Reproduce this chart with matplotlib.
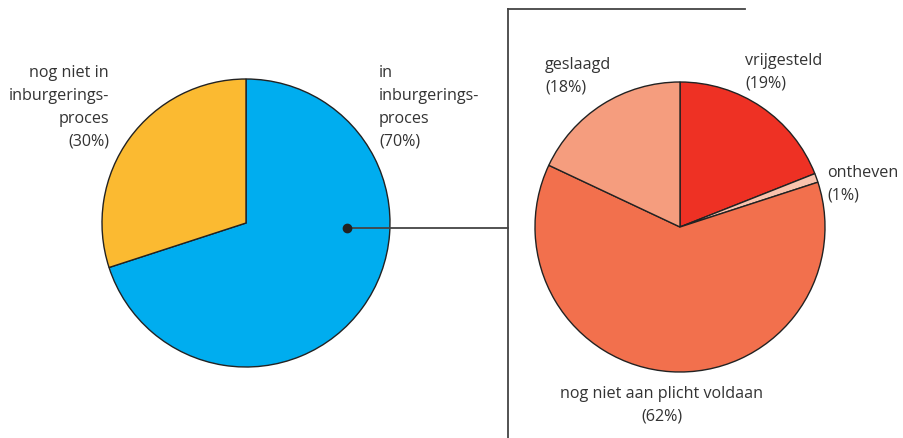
import matplotlib
matplotlib.use('Agg')
import matplotlib.pyplot as plt

# linker taart
links_labels = ['in\ninburgerings-\nproces', 'nog niet in\ninburgerings-\nproces']
links_waarden = [70, 30]
links_kleuren = ['#00ADEF', '#FBBA31']

# rechter taart (uitsplitsing van "in inburgeringsproces")
rechts_labels = ['vrijgesteld', 'ontheven', 'nog niet aan plicht voldaan', 'geslaagd']
rechts_waarden = [19, 1, 62, 18]
rechts_kleuren = ['#EE3124', '#F9C3AE', '#F2704D', '#F59D7E']

W, H = 904, 439
fig = plt.figure(figsize=(W / 100, H / 100), dpi=100)
ax = fig.add_axes([0, 0, 1, 1])

rand = dict(edgecolor='#222222', linewidth=1.0)
ax.pie(links_waarden, colors=links_kleuren, startangle=90, counterclock=False,
       center=(246, H - 224), radius=144, wedgeprops=rand, frame=True)
ax.pie(rechts_waarden, colors=rechts_kleuren, startangle=90, counterclock=False,
       center=(680, H - 228), radius=145, wedgeprops=rand, frame=True)
ax.set_xlim(0, W)
ax.set_ylim(0, H)
ax.set_aspect('equal')
ax.axis('off')

# verbindingslijnen
lijn = dict(color='#444444', linewidth=1.3)
ax.plot([347, 508], [H - 229, H - 229], **lijn)
ax.plot([508, 508], [H - 10, 0], **lijn)
ax.plot([508, 745], [H - 10, H - 10], **lijn)
ax.plot([347], [H - 229], 'o', color='#222222', markersize=6)

tekst = dict(fontsize=11.6, color='#333333', family='Open Sans', linespacing=1.58)
ax.text(109, H - 65, f'{links_labels[1]}\n({links_waarden[1]}%)', ha='right', va='top', **tekst)
ax.text(379, H - 65, f'{links_labels[0]}\n({links_waarden[0]}%)', ha='left', va='top', **tekst)
ax.text(745, H - 53, f'{rechts_labels[0]}\n({rechts_waarden[0]}%)', ha='left', va='top', **tekst)
ax.text(827, H - 165, f'{rechts_labels[1]}\n({rechts_waarden[1]}%)', ha='left', va='top', **tekst)
ax.text(662, H - 386, f'{rechts_labels[2]}\n({rechts_waarden[2]}%)', ha='center', va='top', **tekst)
ax.text(545, H - 57, f'{rechts_labels[3]}\n({rechts_waarden[3]}%)', ha='left', va='top', **tekst)

fig.savefig('out.png', dpi=100)
